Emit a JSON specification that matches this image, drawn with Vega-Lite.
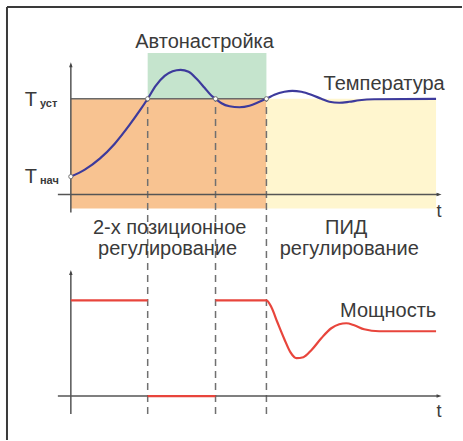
{
  "$schema": "https://vega.github.io/schema/vega-lite/v6.json",
  "width": 463,
  "height": 441,
  "autosize": {"type": "fit", "contains": "padding"},
  "padding": 0,
  "background": "white",
  "config": {"view": {"stroke": null}, "text": {"font": "Liberation Sans", "color": "#3a3a3a"}},
  "datasets": {
    "frame": [
      {"x": -6.4, "y": 0, "x2": -6.4, "y2": 43.4},
      {"x": -6.4, "y": 43.4, "x2": 39.2, "y2": 43.4}
    ],
    "regions": [
      {"zone": "2-х позиционное", "x": 0, "x2": 19.6, "y": 23.2, "y2": 34.2},
      {"zone": "ПИД", "x": 19.6, "x2": 36.6, "y": 23.2, "y2": 34.2},
      {"zone": "Автонастройка", "x": 7.7, "x2": 19.6, "y": 34.2, "y2": 38.8}
    ],
    "level": [{"x": 0, "y": 34.2, "x2": 19.6, "y2": 34.2}],
    "axes": [
      {"x": 0, "y": 22.8, "x2": 0, "y2": 37.6},
      {"x": -1.3, "y": 24.6, "x2": 36.9, "y2": 24.6},
      {"x": 0, "y": 2.6, "x2": 0, "y2": 16.8},
      {"x": -1.3, "y": 4.4, "x2": 36.9, "y2": 4.4}
    ],
    "arrowsUp": [{"x": 0, "y": 37.6}, {"x": 0, "y": 16.8}],
    "arrowsRight": [{"x": 36.9, "y": 24.6}, {"x": 36.9, "y": 4.4}],
    "dashes": [
      {"x": 7.7, "y": 2.6, "x2": 7.7, "y2": 34.2},
      {"x": 14.5, "y": 2.6, "x2": 14.5, "y2": 34.2},
      {"x": 19.6, "y": 2.6, "x2": 19.6, "y2": 34.2}
    ],
    "temp": [
      {"x": 0, "y": 26.4}, {"x": 1.4, "y": 27.1}, {"x": 2.9, "y": 28.2}, {"x": 4.4, "y": 29.7},
      {"x": 5.9, "y": 31.6}, {"x": 6.9, "y": 33.0}, {"x": 7.7, "y": 34.2}, {"x": 8.5, "y": 35.5},
      {"x": 9.4, "y": 36.5}, {"x": 10.2, "y": 36.95}, {"x": 11.0, "y": 37.1}, {"x": 11.8, "y": 36.9},
      {"x": 12.6, "y": 36.2}, {"x": 13.4, "y": 35.3}, {"x": 14.1, "y": 34.5}, {"x": 14.5, "y": 34.2},
      {"x": 15.1, "y": 33.75}, {"x": 15.9, "y": 33.45}, {"x": 16.9, "y": 33.35}, {"x": 17.9, "y": 33.5},
      {"x": 18.9, "y": 33.9}, {"x": 19.6, "y": 34.2}, {"x": 20.4, "y": 34.6}, {"x": 21.4, "y": 34.9},
      {"x": 22.2, "y": 35.0}, {"x": 23.1, "y": 34.9}, {"x": 24.1, "y": 34.6}, {"x": 25.1, "y": 34.2},
      {"x": 25.9, "y": 33.9}, {"x": 26.9, "y": 33.8}, {"x": 27.9, "y": 33.9}, {"x": 28.9, "y": 34.05},
      {"x": 30.4, "y": 34.15}, {"x": 36.6, "y": 34.2}
    ],
    "power": [
      {"seg": "a", "x": 0, "y": 14.0}, {"seg": "a", "x": 7.7, "y": 14.0},
      {"seg": "b", "x": 7.7, "y": 4.4}, {"seg": "b", "x": 14.5, "y": 4.4},
      {"seg": "c", "x": 14.5, "y": 14.0}, {"seg": "c", "x": 19.6, "y": 14.0},
      {"seg": "c", "x": 20.1, "y": 13.3}, {"seg": "c", "x": 20.7, "y": 11.8},
      {"seg": "c", "x": 21.4, "y": 10.1}, {"seg": "c", "x": 22.0, "y": 8.8},
      {"seg": "c", "x": 22.6, "y": 8.2}, {"seg": "c", "x": 23.3, "y": 8.3},
      {"seg": "c", "x": 24.1, "y": 9.0}, {"seg": "c", "x": 25.1, "y": 10.2},
      {"seg": "c", "x": 26.1, "y": 11.2}, {"seg": "c", "x": 26.9, "y": 11.6},
      {"seg": "c", "x": 27.6, "y": 11.7}, {"seg": "c", "x": 28.4, "y": 11.5},
      {"seg": "c", "x": 29.4, "y": 11.1}, {"seg": "c", "x": 30.9, "y": 10.9},
      {"seg": "c", "x": 36.6, "y": 10.9}
    ],
    "markers": [
      {"x": 0, "y": 26.4}, {"x": 7.7, "y": 34.2}, {"x": 14.5, "y": 34.2}, {"x": 19.6, "y": 34.2}
    ],
    "labels": [
      {"text": "Автонастройка", "x": 13.4, "y": 39.3},
      {"text": "Температура", "x": 31.4, "y": 35.1},
      {"text": "2-х позиционное", "x": 9.9, "y": 20.6},
      {"text": "регулирование", "x": 9.7, "y": 18.5},
      {"text": "ПИД", "x": 27.6, "y": 20.6},
      {"text": "регулирование", "x": 27.9, "y": 18.5},
      {"text": "Мощность", "x": 31.8, "y": 12.3}
    ],
    "tlabels": [
      {"text": "t", "x": 36.9, "y": 22.4},
      {"text": "t", "x": 36.9, "y": 2.3}
    ],
    "caps": [
      {"text": "T", "x": -4.0, "y": 33.5},
      {"text": "T", "x": -4.0, "y": 25.8}
    ],
    "subs": [
      {"text": "уст", "x": -3.1, "y": 33.4},
      {"text": "нач", "x": -3.1, "y": 25.7}
    ]
  },
  "encoding": {
    "x": {"field": "x", "type": "quantitative", "scale": {"domain": [-7.1, 39.2], "nice": false, "zero": false}, "axis": null},
    "y": {"field": "y", "type": "quantitative", "scale": {"domain": [0, 44.1], "nice": false, "zero": false}, "axis": null}
  },
  "layer": [
    {
      "data": {"name": "regions"},
      "mark": {"type": "rect"},
      "encoding": {
        "x2": {"field": "x2"},
        "y2": {"field": "y2"},
        "color": {"field": "zone", "type": "nominal", "legend": null,
          "scale": {"domain": ["2-х позиционное", "ПИД", "Автонастройка"], "range": ["#F8C391", "#FFF6CF", "#C5E4CD"]}}
      }
    },
    {
      "data": {"name": "frame"},
      "mark": {"type": "rule", "color": "#3a3a3a", "strokeWidth": 2},
      "encoding": {"x2": {"field": "x2"}, "y2": {"field": "y2"}}
    },
    {
      "data": {"name": "level"},
      "mark": {"type": "rule", "color": "#6a6a6a", "strokeWidth": 1.5},
      "encoding": {"x2": {"field": "x2"}, "y2": {"field": "y2"}}
    },
    {
      "data": {"name": "dashes"},
      "mark": {"type": "rule", "color": "#707070", "strokeWidth": 1.5, "strokeDash": [7, 5]},
      "encoding": {"x2": {"field": "x2"}, "y2": {"field": "y2"}}
    },
    {
      "data": {"name": "axes"},
      "mark": {"type": "rule", "color": "#555555", "strokeWidth": 1.5},
      "encoding": {"x2": {"field": "x2"}, "y2": {"field": "y2"}}
    },
    {
      "data": {"name": "arrowsUp"},
      "mark": {"type": "point", "shape": "M-0.35,0.5L0,-0.5L0.35,0.5Z", "filled": true, "color": "#444444", "size": 100, "opacity": 1},
      "encoding": {}
    },
    {
      "data": {"name": "arrowsRight"},
      "mark": {"type": "point", "shape": "M-0.5,-0.35L0.5,0L-0.5,0.35Z", "filled": true, "color": "#444444", "size": 100, "opacity": 1},
      "encoding": {}
    },
    {
      "data": {"name": "temp"},
      "mark": {"type": "line", "color": "#3D3A9C", "strokeWidth": 2.2, "interpolate": "monotone"},
      "encoding": {"order": {"field": "x", "type": "quantitative"}}
    },
    {
      "data": {"name": "power"},
      "mark": {"type": "line", "color": "#E8453C", "strokeWidth": 2.2, "interpolate": "monotone"},
      "encoding": {"detail": {"field": "seg", "type": "nominal"}, "order": {"field": "x", "type": "quantitative"}}
    },
    {
      "data": {"name": "markers"},
      "mark": {"type": "point", "filled": true, "fill": "white", "stroke": "#777777", "strokeWidth": 1, "size": 18, "opacity": 1},
      "encoding": {}
    },
    {
      "data": {"name": "labels"},
      "mark": {"type": "text", "align": "center", "baseline": "alphabetic", "fontSize": 20},
      "encoding": {"text": {"field": "text"}}
    },
    {
      "data": {"name": "tlabels"},
      "mark": {"type": "text", "align": "center", "baseline": "alphabetic", "fontSize": 18},
      "encoding": {"text": {"field": "text"}}
    },
    {
      "data": {"name": "caps"},
      "mark": {"type": "text", "align": "center", "baseline": "alphabetic", "fontSize": 20},
      "encoding": {"text": {"field": "text"}}
    },
    {
      "data": {"name": "subs"},
      "mark": {"type": "text", "align": "left", "baseline": "alphabetic", "fontSize": 11, "fontWeight": "bold"},
      "encoding": {"text": {"field": "text"}}
    }
  ]
}
